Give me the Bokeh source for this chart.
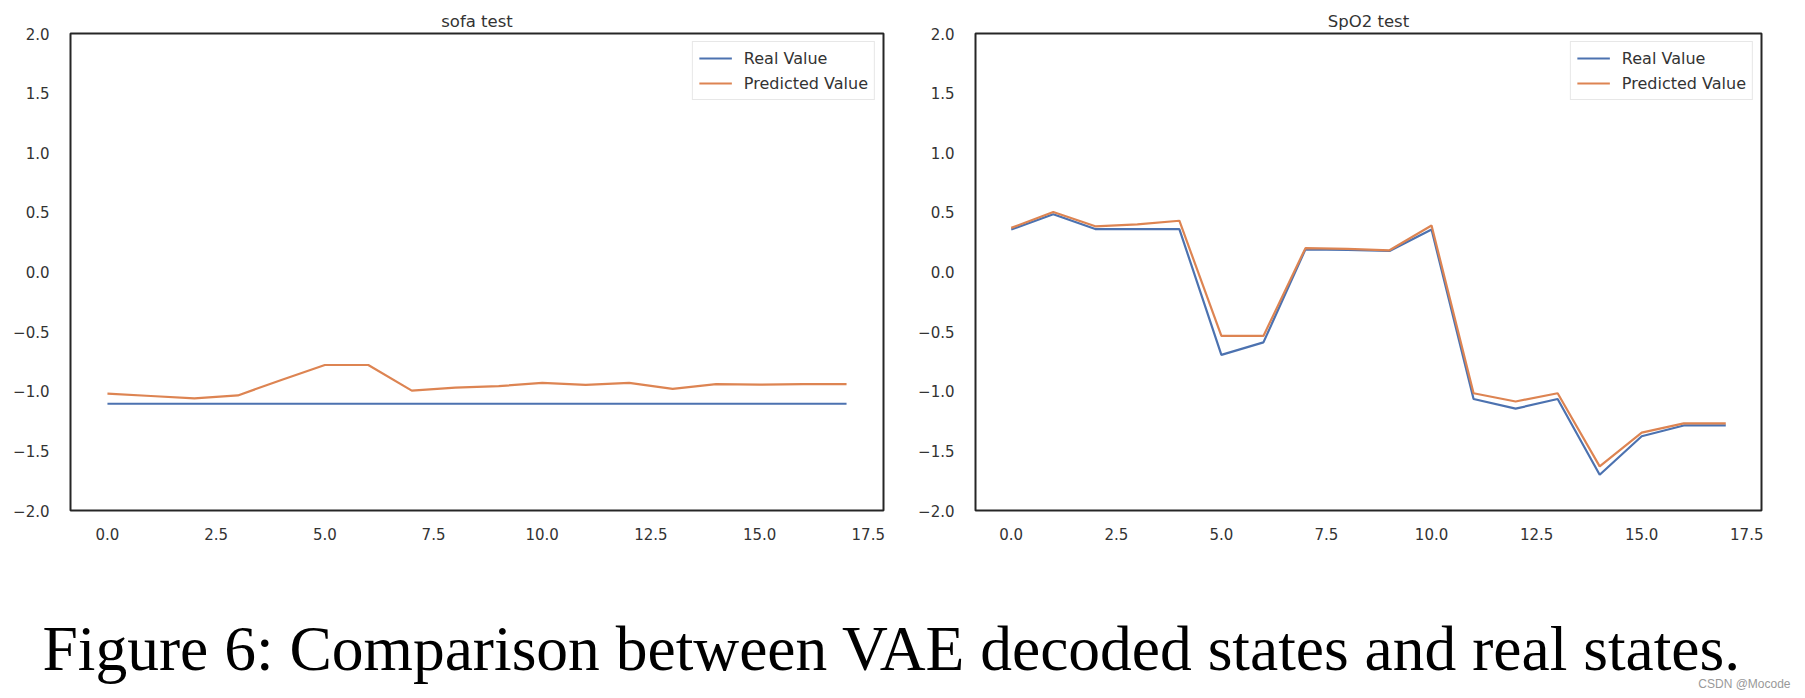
from bokeh.plotting import figure
from bokeh.layouts import column, row
from bokeh.models import FixedTicker, Range1d
from bokeh.core.properties import value
from bokeh.embed import file_html
from bokeh.resources import INLINE

steps = list(range(18))
sofa_real = [-1.105] * 18
sofa_pred = [-1.02, -1.04, -1.06, -1.035, -0.905, -0.78, -0.78, -0.995, -0.97, -0.957,
             -0.93, -0.947, -0.93, -0.98, -0.94, -0.945, -0.94, -0.94]
spo2_real = [0.356, 0.485, 0.36, 0.36, 0.36, -0.695, -0.59, 0.19, 0.185, 0.176,
             0.356, -1.065, -1.146, -1.065, -1.70, -1.377, -1.287, -1.287]
spo2_pred = [0.37, 0.503, 0.383, 0.40, 0.43, -0.536, -0.536, 0.20, 0.194, 0.182,
             0.39, -1.017, -1.086, -1.017, -1.63, -1.347, -1.27, -1.27]
y_ticks = [-2.0, -1.5, -1.0, -0.5, 0.0, 0.5, 1.0, 1.5, 2.0]
x_ticks = [0.0, 2.5, 5.0, 7.5, 10.0, 12.5, 15.0, 17.5]
titles = ["sofa test", "SpO2 test"]
series_names = ["Real Value", "Predicted Value"]
caption = "Figure 6: Comparison between VAE decoded states and real states."
watermark = "CSDN @Mocode"

BLUE = "#4C72B0"
ORANGE = "#DD8452"
TXT = "#333333"
FONT = "DejaVu Sans"


def fmt(v):
    s = "%.1f" % v
    return s.replace("-", "\u2212")


def make_panel(title, real, pred, width, left, right):
    p = figure(width=width, height=550, output_backend="svg", toolbar_location=None,
               x_range=Range1d(-0.85, 17.85), y_range=Range1d(-2, 2),
               min_border_left=left, min_border_right=right,
               min_border_top=33, min_border_bottom=40, title=title)
    p.title.align = "center"
    p.title.text_font = FONT
    p.title.text_font_size = "16.5px"
    p.title.text_font_style = "normal"
    p.title.text_color = TXT
    p.title.standoff = 5
    p.xgrid.visible = False
    p.ygrid.visible = False
    p.outline_line_color = "#262626"
    p.outline_line_width = 2
    p.background_fill_color = "white"
    p.border_fill_color = "white"
    for ax, ticks in ((p.xaxis[0], x_ticks), (p.yaxis[0], y_ticks)):
        ax.ticker = FixedTicker(ticks=ticks)
        ax.major_label_overrides = {t: fmt(t) for t in ticks}
        ax.axis_line_color = None
        ax.major_tick_line_color = None
        ax.minor_tick_line_color = None
        ax.major_label_text_font = FONT
        ax.major_label_text_font_size = "15px"
        ax.major_label_text_color = TXT
    p.xaxis[0].major_label_standoff = 11
    p.yaxis[0].major_label_standoff = 15
    p.line(steps, real, color=BLUE, line_width=2.2, legend_label=series_names[0])
    p.line(steps, pred, color=ORANGE, line_width=2.2, legend_label=series_names[1])
    lg = p.legend[0]
    lg.location = "top_right"
    lg.margin = 8
    lg.padding = 6
    lg.spacing = 5
    lg.glyph_width = 33
    lg.label_standoff = 12
    lg.label_text_font = FONT
    lg.label_text_font_size = "16px"
    lg.label_text_color = TXT
    lg.border_line_color = "#d0d0d0"
    lg.border_line_width = 1
    lg.background_fill_alpha = 1.0
    return p


p1 = make_panel(titles[0], sofa_real, sofa_pred, 915, 70, 32)
p2 = make_panel(titles[1], spo2_real, spo2_pred, 890, 35, 44)

p3 = figure(width=1805, height=148, output_backend="svg", toolbar_location=None,
            x_range=Range1d(0, 1805), y_range=Range1d(0, 148),
            min_border=0, min_border_left=0, min_border_right=0,
            min_border_top=0, min_border_bottom=0)
p3.axis.visible = False
p3.grid.visible = False
p3.outline_line_color = None
p3.text(x=[42], y=[50], text=[caption], text_font=value("Liberation Serif"),
        text_font_size="63.5px", text_color="black", text_baseline="alphabetic",
        text_align="left")
p3.text(x=[1790], y=[15], text=[watermark], text_font=value("Liberation Sans"),
        text_font_size="12px", text_color="#999999", text_baseline="middle",
        text_align="right")

layout = column(row(p1, p2), p3)
open("out.html", "w").write(file_html(layout, INLINE))
